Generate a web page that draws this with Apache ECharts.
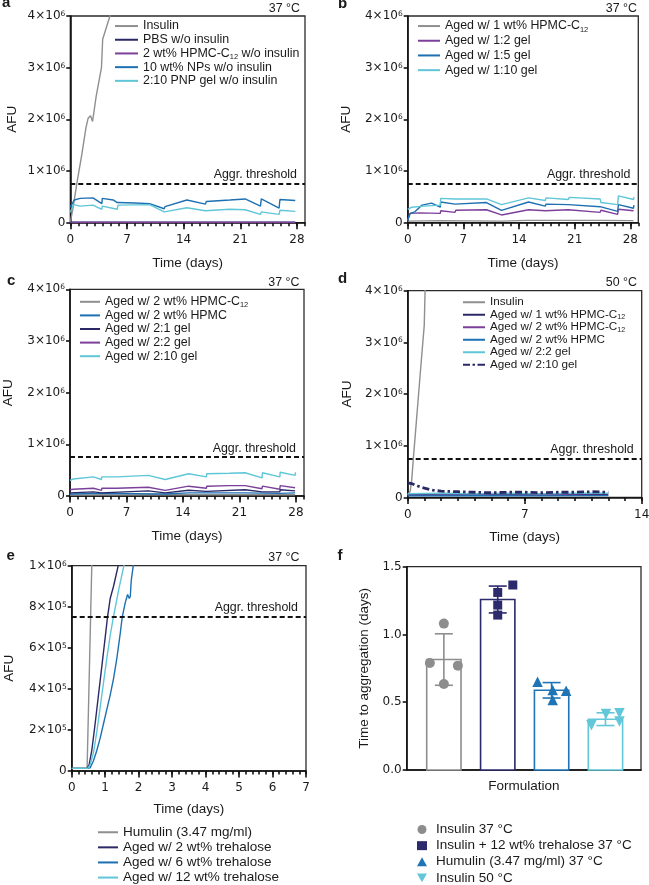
<!DOCTYPE html>
<html><head><meta charset="utf-8">
<script src="https://cdn.jsdelivr.net/npm/echarts@6/dist/echarts.min.js"></script>
<style>html,body{margin:0;padding:0;background:#fff}#c{width:649px;height:885px}</style>
</head><body><div id="c"></div><script>
// ---------- DATA (AFU values in units of 10^6; time in days) ----------
const THRESHOLD = 0.75;
const X_MAJOR_28 = [0, 7, 14, 21, 28];
const X_MAJOR_14 = [0, 7, 14];
const X_MAJOR_7 = [0, 1, 2, 3, 4, 5, 6, 7];
const Y_TICKS_AFU = ['0', '1×10^6', '2×10^6', '3×10^6', '4×10^6'];
const Y_TICKS_E = ['0', '2×10^5', '4×10^5', '6×10^5', '8×10^5', '1×10^6'];
const Y_TICKS_F = ['0.0', '0.5', '1.0', '1.5'];

// Panel a (37 °C)
const A_LABELS = ['Insulin', 'PBS w/o insulin', '2 wt% HPMC-C_12 w/o insulin', '10 wt% NPs w/o insulin', '2:10 PNP gel w/o insulin'];
const A_INSULIN = [[0,0],[0.35,0.3],[0.85,0.8],[1.4,1.3],[1.95,1.85],[2.2,2.02],[2.5,2.07],[2.75,1.96],[3.2,2.45],[3.85,3.0],[4.0,3.55],[4.9,4.0],[5.8,4.6]];
const A_PBS = [[0,0.008],[7,0.008],[14,0.008],[21,0.008],[27.8,0.008]];
const A_HPMC = [[0,0.004],[7,0.004],[14,0.004],[21,0.004],[27.8,0.004]];
const A_NPS = [[0,0.3],[0.5,0.44],[1.2,0.47],[2.8,0.48],[3.9,0.37],[3.95,0.47],[5.3,0.44],[5.8,0.39],[5.9,0.41],[8,0.38],[9.8,0.37],[11.6,0.27],[11.7,0.31],[14.4,0.44],[16.7,0.36],[16.8,0.41],[19.7,0.44],[21.6,0.46],[23.5,0.32],[23.6,0.46],[25.8,0.28],[25.9,0.45],[27.8,0.43]];
const A_GEL = [[0,0.2],[0.4,0.35],[1.2,0.32],[2.8,0.34],[3.9,0.26],[3.95,0.32],[5.8,0.26],[5.9,0.34],[9.8,0.35],[11.6,0.21],[14.4,0.29],[16.7,0.23],[16.8,0.26],[19.7,0.26],[21.6,0.25],[23.5,0.16],[23.6,0.21],[25.8,0.16],[25.9,0.24],[27.8,0.22]];

// Panel b (37 °C)
const B_LABELS = ['Aged w/ 1 wt% HPMC-C_12', 'Aged w/ 1:2 gel', 'Aged w/ 1:5 gel', 'Aged w/ 1:10 gel'];
const B_HPMC = [[0,0.03],[4,0.04],[11.8,0.03],[15,0.045],[24,0.045],[28.4,0.04]];
const B_G12 = [[0,0.04],[0.3,0.18],[1.5,0.19],[4.1,0.18],[4.15,0.23],[5.95,0.2],[6.05,0.24],[9.9,0.25],[11.8,0.15],[15.2,0.25],[17.3,0.23],[17.4,0.25],[20.2,0.25],[24.2,0.2],[24.3,0.24],[26.4,0.16],[26.5,0.26],[28.4,0.23]];
const B_G15 = [[0,0.05],[0.3,0.18],[0.9,0.21],[1.8,0.34],[3.0,0.38],[4.1,0.3],[4.15,0.4],[5.95,0.36],[6.05,0.39],[9.9,0.39],[11.8,0.24],[15.2,0.4],[17.3,0.32],[17.4,0.36],[20.2,0.35],[24.2,0.31],[26.4,0.22],[26.5,0.35],[28.4,0.28],[28.45,0.34]];
const B_G110 = [[0,0.26],[0.5,0.3],[2,0.32],[4.1,0.34],[4.15,0.47],[6.0,0.46],[6.1,0.43],[6.2,0.46],[9.9,0.46],[11.8,0.35],[15.2,0.48],[17.3,0.43],[17.4,0.48],[20.2,0.45],[20.3,0.49],[24.2,0.46],[24.3,0.39],[26.4,0.35],[26.5,0.52],[28.4,0.45],[28.45,0.5]];

// Panel c (37 °C)
const C_LABELS = ['Aged w/ 2 wt% HPMC-C_12', 'Aged w/ 2 wt% HPMC', 'Aged w/ 2:1 gel', 'Aged w/ 2:2 gel', 'Aged w/ 2:10 gel'];
const C_HPMCC12 = [[0,0.02],[14,0.025],[27.9,0.025]];
const C_HPMC = [[0,0.04],[3.9,0.05],[11.8,0.04],[14.7,0.06],[21.7,0.06],[26,0.05],[27.9,0.06]];
const C_G21 = [[0,0.06],[2.9,0.08],[3.9,0.06],[3.95,0.09],[9.7,0.1],[11.8,0.06],[14.7,0.11],[16.9,0.09],[16.95,0.11],[21.7,0.12],[23.8,0.08],[23.85,0.11],[26,0.08],[26.05,0.12],[27.9,0.1]];
const C_G22 = [[0,0.12],[0.4,0.13],[2.9,0.15],[3.9,0.11],[3.95,0.15],[5.8,0.15],[6,0.16],[9.7,0.17],[11.8,0.11],[14.7,0.19],[16.9,0.15],[16.95,0.19],[19.8,0.2],[21.7,0.2],[23.8,0.14],[23.85,0.19],[26,0.13],[26.05,0.2],[27.9,0.16]];
const C_G210 = [[0,0.3],[0.4,0.33],[2.9,0.37],[3.9,0.32],[3.95,0.37],[5.8,0.37],[6,0.38],[9.7,0.4],[11.8,0.32],[14.7,0.43],[16.9,0.37],[16.95,0.43],[19.8,0.44],[21.7,0.45],[23.8,0.35],[23.85,0.45],[26,0.37],[26.05,0.46],[27.9,0.4],[27.95,0.46]];

// Panel d (50 °C)
const D_LABELS = ['Insulin', 'Aged w/ 1 wt% HPMC-C_12', 'Aged w/ 2 wt% HPMC-C_12', 'Aged w/ 2 wt% HPMC', 'Aged w/ 2:2 gel', 'Aged w/ 2:10 gel'];
const D_INSULIN = [[0,0.05],[0.15,0.12],[0.24,0.34],[0.34,0.76],[0.8,2.59],[0.99,3.33],[1.04,4.0],[1.1,4.6]];
const D_HPMCC12_1 = [[0,0.05],[2,0.06],[4,0.05],[6,0.06],[8,0.05],[10,0.06],[12,0.06]];
const D_HPMCC12_2 = [[0,0.04],[3,0.045],[6,0.04],[9,0.045],[12,0.04]];
const D_HPMC = [[0,0.03],[4,0.035],[8,0.03],[12,0.035]];
const D_G22 = [[0,0.07],[2,0.08],[4,0.07],[6,0.08],[8,0.07],[10,0.08],[12,0.08]];
const D_G210 = [[0,0.28],[0.3,0.26],[0.6,0.22],[1,0.18],[1.5,0.14],[2,0.12],[3,0.11],[4,0.1],[5,0.09],[6,0.1],[7,0.1],[8,0.09],[9,0.1],[10,0.1],[11,0.11],[12,0.1]];

// Panel e (37 °C)
const E_LABELS = ['Humulin (3.47 mg/ml)', 'Aged w/ 2 wt% trehalose', 'Aged w/ 6 wt% trehalose', 'Aged w/ 12 wt% trehalose'];
const E_HUMULIN = [[0,0.013],[0.46,0.013],[0.6,1.0],[0.62,1.05]];
const E_TRE2 = [[0,0.013],[0.46,0.013],[0.52,0.03],[0.6,0.1],[0.7,0.23],[0.8,0.37],[0.9,0.51],[1.0,0.65],[1.07,0.75],[1.15,0.84],[1.25,0.9],[1.39,1.0],[1.45,1.04]];
const E_TRE6 = [[0,0.013],[0.48,0.013],[0.55,0.015],[0.65,0.05],[0.75,0.1],[0.85,0.16],[0.95,0.23],[1.05,0.3],[1.15,0.37],[1.25,0.45],[1.35,0.55],[1.45,0.67],[1.51,0.75],[1.6,0.82],[1.67,0.86],[1.72,0.84],[1.75,0.85],[1.78,0.93],[1.84,1.0],[1.9,1.04]];
const E_TRE12 = [[0,0.013],[0.48,0.013],[0.55,0.03],[0.65,0.09],[0.75,0.19],[0.85,0.31],[0.95,0.43],[1.05,0.55],[1.15,0.66],[1.245,0.75],[1.4,0.88],[1.56,1.0],[1.62,1.04]];

// Panel f
const F_LABELS = ['Insulin 37 °C', 'Insulin + 12 wt% trehalose 37 °C', 'Humulin (3.47 mg/ml) 37 °C', 'Insulin 50 °C'];
const F_MEAN = [0.815, 1.258, 0.588, 0.375];
const F_SD = [0.19, 0.099, 0.057, 0.047];
const F_PTS = [[1.08, 0.79, 0.77, 0.635], [1.31, 1.365, 1.217, 1.143], [0.652, 0.59, 0.585, 0.516], [0.33, 0.413, 0.418, 0.357]];
const F_JITTER = [[0, -0.26, 0.26, 0], [0, 0.28, 0, 0], [-0.26, 0.02, 0.27, 0.02], [-0.26, 0.01, 0.26, 0.26]];

// ---------- STYLE ----------
const FONT = '"Liberation Sans", Arial, sans-serif';
const TFONT = '"DejaVu Sans", sans-serif';
const TXT = '#1a1a1a';
const COL = {gray:'#8f8f8f', navy:'#2a2966', purple:'#7c3f9a', blue:'#1d70b2', cyan:'#5fc6d8'};
const F_COLORS = ['#8d8d8d', '#2b2a6c', '#1f74b6', '#62c7d8'];
const F_SYMBOLS = ['circle', 'rect', 'triangle', 'path://M0,0L2,0L1,1.73Z'];
const F_SIZES = [10, 9, 10.5, 10.5];
const F_BAR_W = 0.637;
const AX = {color:'#111', width:1.6};
const LINE_ICON = 'rect';
const DASHDOT_ICON = 'path://M0,0h7v2h-7zM9.5,0h2.5v2h-2.5zM14.5,0h7.5v2h-7.5z';

const gridDefs = [
  {left:70.3, top:16, width:234.7, height:206.7},
  {left:407.7, top:16, width:230.6, height:206.7},
  {left:70, top:289.3, width:234, height:206.7},
  {left:407.7, top:290.7, width:234, height:206.7},
  {left:71.7, top:565.7, width:234.3, height:205.3},
  {left:406.7, top:566.7, width:234.3, height:203.3}
];
const grid = gridDefs.map(g => Object.assign({show:true, borderColor:'#2b2b2b', borderWidth:1.3, backgroundColor:'transparent', containLabel:false, outerBoundsMode:'none'}, g));

function supFmt(s) {
  if (s.indexOf('^') < 0) return '{m|' + s + '}';
  const p = s.split('^');
  return '{m|' + p[0] + '}{s|' + p[1] + '}';
}
const supRich = {m:{fontFamily:TFONT, fontSize:12, color:TXT, lineHeight:12}, s:{fontFamily:TFONT, fontSize:7.5, color:TXT, verticalAlign:'top', lineHeight:8}};

const xAxis = [], yAxis = [];
function addX(gi, min, max, minorStep, majors, nameGap) {
  xAxis.push({gridIndex:gi, type:'value', position:'bottom', min, max, interval:minorStep,
    axisLine:{show:true, onZero:false, lineStyle:AX}, axisTick:{show:true, length:3.5, lineStyle:AX},
    axisLabel:{show:false}, splitLine:{show:false}});
  const idx = xAxis.length - 1;
  xAxis.push({gridIndex:gi, type:'value', position:'bottom', min, max,
    axisLine:{show:false, onZero:false}, axisTick:{show:true, length:6.5, customValues:majors, lineStyle:AX},
    axisLabel:{show:true, customValues:majors, margin:11, fontFamily:TFONT, fontSize:12, color:TXT},
    splitLine:{show:false}, name:'Time (days)', nameLocation:'middle', nameGap,
    nameTextStyle:{fontFamily:FONT, fontSize:13.5, color:TXT}});
  return idx;
}
function addY(gi, max, interval, labels, name, nameGap) {
  yAxis.push({gridIndex:gi, type:'value', min:0, max, interval,
    axisLine:{show:true, onZero:false, lineStyle:AX}, axisTick:{show:true, length:4, lineStyle:AX},
    axisLabel:{margin:5, formatter:(v, i) => supFmt(labels[i] !== undefined ? labels[i] : ''), rich:supRich},
    splitLine:{show:false}, name, nameLocation:'middle', nameGap,
    nameTextStyle:{fontFamily:FONT, fontSize:13.5, color:TXT}});
  return yAxis.length - 1;
}

const xa = addX(0, 0, 29, 1, X_MAJOR_28, 34), ya = addY(0, 4, 1, Y_TICKS_AFU, 'AFU', 51);
const xb = addX(1, 0, 29, 1, X_MAJOR_28, 34), yb = addY(1, 4, 1, Y_TICKS_AFU, 'AFU', 54);
const xc = addX(2, 0, 29, 1, X_MAJOR_28, 33), yc = addY(2, 4, 1, Y_TICKS_AFU, 'AFU', 55);
const xd = addX(3, 0, 14, 1, X_MAJOR_14, 33), yd = addY(3, 4, 1, Y_TICKS_AFU, 'AFU', 53);
const xe = addX(4, 0, 7, 0.2, X_MAJOR_7, 31), ye = addY(4, 1, 0.2, Y_TICKS_E, 'AFU', 55);
xAxis.push({gridIndex:5, type:'value', position:'bottom', min:-0.69, max:3.66,
  axisLine:{show:true, onZero:false, lineStyle:AX}, axisTick:{show:false}, axisLabel:{show:false}, splitLine:{show:false},
  name:'Formulation', nameLocation:'middle', nameGap:9, nameTextStyle:{fontFamily:FONT, fontSize:13.5, color:TXT}});
const xf = xAxis.length - 1;
const yf = addY(5, 1.5, 0.5, Y_TICKS_F, 'Time to aggregation (days)', 35);

const thresholdMark = {
  silent:true, symbol:['none','none'], animation:false,
  lineStyle:{type:[5,3], width:2, color:'#111'},
  label:{show:true, position:'insideEndTop', formatter:'Aggr. threshold', fontFamily:FONT, fontSize:12.4, color:TXT, distance:[8,3]},
  data:[{yAxis:THRESHOLD}]
};

const series = [];
function addLine(prefix, label, data, color, xi, yi, extra) {
  const s = {type:'line', name:prefix + label, xAxisIndex:xi, yAxisIndex:yi, data, symbol:'none', showSymbol:false,
    lineStyle:Object.assign({color, width:1.4}, (extra && extra.lineStyle) || {}), itemStyle:{color}, clip:true, animation:false};
  series.push(s);
  return s;
}
// a
addLine('a: ', A_LABELS[0], A_INSULIN, COL.gray, xa, ya);
addLine('a: ', A_LABELS[1], A_PBS, COL.navy, xa, ya);
addLine('a: ', A_LABELS[2], A_HPMC, COL.purple, xa, ya);
addLine('a: ', A_LABELS[3], A_NPS, COL.blue, xa, ya).markLine = thresholdMark;
addLine('a: ', A_LABELS[4], A_GEL, COL.cyan, xa, ya);
// b
addLine('b: ', B_LABELS[0], B_HPMC, COL.gray, xb, yb).markLine = thresholdMark;
addLine('b: ', B_LABELS[1], B_G12, COL.purple, xb, yb);
addLine('b: ', B_LABELS[2], B_G15, COL.blue, xb, yb);
addLine('b: ', B_LABELS[3], B_G110, COL.cyan, xb, yb);
// c
addLine('c: ', C_LABELS[0], C_HPMCC12, COL.gray, xc, yc).markLine = thresholdMark;
addLine('c: ', C_LABELS[1], C_HPMC, COL.blue, xc, yc);
addLine('c: ', C_LABELS[2], C_G21, COL.navy, xc, yc);
addLine('c: ', C_LABELS[3], C_G22, COL.purple, xc, yc);
addLine('c: ', C_LABELS[4], C_G210, COL.cyan, xc, yc);
// d
addLine('d: ', D_LABELS[0], D_INSULIN, COL.gray, xd, yd).markLine = thresholdMark;
addLine('d: ', D_LABELS[1], D_HPMCC12_1, COL.navy, xd, yd);
addLine('d: ', D_LABELS[2], D_HPMCC12_2, COL.purple, xd, yd);
addLine('d: ', D_LABELS[3], D_HPMC, COL.blue, xd, yd);
addLine('d: ', D_LABELS[4], D_G22, COL.cyan, xd, yd);
addLine('d: ', D_LABELS[5], D_G210, COL.navy, xd, yd, {lineStyle:{type:[7,3,2.5,3], width:2.8}});
// e
addLine('e: ', E_LABELS[0], E_HUMULIN, COL.gray, xe, ye).markLine = thresholdMark;
addLine('e: ', E_LABELS[1], E_TRE2, COL.navy, xe, ye);
addLine('e: ', E_LABELS[2], E_TRE6, COL.blue, xe, ye);
addLine('e: ', E_LABELS[3], E_TRE12, COL.cyan, xe, ye);
// f bars + error bars
series.push({type:'custom', name:'f-bars', xAxisIndex:xf, yAxisIndex:yf, animation:false, clip:false,
  data:F_MEAN.map((m, i) => [i, m, F_SD[i]]),
  renderItem:(params, api) => {
    const i = api.value(0), m = api.value(1), sd = api.value(2);
    const top = api.coord([i, m]), base = api.coord([i, 0]);
    const hi = api.coord([i, m + sd]), lo = api.coord([i, m - sd]);
    const w = api.size([F_BAR_W, 0])[0];
    const col = F_COLORS[i], cap = 9, lw = 1.6;
    return {type:'group', children:[
      {type:'rect', shape:{x:top[0]-w/2, y:top[1], width:w, height:base[1]-top[1]}, style:{fill:'#fff', stroke:col, lineWidth:lw}},
      {type:'line', shape:{x1:top[0], y1:hi[1], x2:top[0], y2:lo[1]}, style:{stroke:col, lineWidth:lw}},
      {type:'line', shape:{x1:top[0]-cap, y1:hi[1], x2:top[0]+cap, y2:hi[1]}, style:{stroke:col, lineWidth:lw}},
      {type:'line', shape:{x1:top[0]-cap, y1:lo[1], x2:top[0]+cap, y2:lo[1]}, style:{stroke:col, lineWidth:lw}}
    ]};
  }});
F_PTS.forEach((pts, g) => {
  series.push({type:'scatter', name:'f: ' + F_LABELS[g], xAxisIndex:xf, yAxisIndex:yf, animation:false, z:5,
    symbol:F_SYMBOLS[g], symbolSize:F_SIZES[g], itemStyle:{color:F_COLORS[g], opacity:1},
    data:pts.map((v, k) => [g + F_JITTER[g][k], v])});
});

function legFmt(name) {
  const t = name.slice(3);
  const parts = t.split('_12');
  let out = '';
  parts.forEach((p, i) => { if (p) out += '{t|' + p + '}'; if (i < parts.length - 1) out += '{s|12}'; });
  return out;
}
function legend(prefix, labels, left, top, itemWidth, fontSize, rowH, icons, extra) {
  return Object.assign({
    orient:'vertical', left, top, height:rowH * labels.length + 4, padding:0, itemGap:0, itemWidth, itemHeight:2,
    data:labels.map((l, i) => ({name:prefix + l, icon:icons ? icons[i] : LINE_ICON})), formatter:legFmt, selectedMode:false,
    textStyle:{color:TXT, fontFamily:FONT, fontSize, lineHeight:rowH,
      rich:{t:{fontFamily:FONT, fontSize, color:TXT, lineHeight:rowH}, s:{fontFamily:FONT, fontSize:fontSize*0.6, color:TXT, verticalAlign:'bottom', lineHeight:6}}}
  }, extra || {});
}
const legends = [
  legend('a: ', A_LABELS, 115, 19.2, 23, 12.4, 13.7),
  legend('b: ', B_LABELS, 418, 18.7, 22, 12.4, 14.7),
  legend('c: ', C_LABELS, 80, 295, 20, 12.4, 13.6),
  legend('d: ', D_LABELS, 463, 296, 22, 11.7, 12.5, [LINE_ICON, LINE_ICON, LINE_ICON, LINE_ICON, LINE_ICON, DASHDOT_ICON]),
  legend('e: ', E_LABELS, 98, 824.7, 20, 13.5, 15.1),
  legend('f: ', F_LABELS, 417, 821.5, 10, 13.5, 16.1, F_SYMBOLS, {itemHeight:9,
    textStyle:{color:TXT, fontFamily:FONT, fontSize:13.5, lineHeight:16.1, padding:[0,0,0,4],
      rich:{t:{fontFamily:FONT, fontSize:13.5, color:TXT, lineHeight:16.1}}}})
];

function txt(text, x, y, align, size, bold) {
  return {type:'text', x, y, silent:true, style:{text, x:0, y:0, align, verticalAlign:'middle', fontFamily:FONT, fontSize:size, fontWeight:bold ? 'bold' : 'normal', fill:TXT}};
}
const graphic = [
  txt('a', 2, 3, 'left', 15, true), txt('b', 338, 3.5, 'left', 15, true),
  txt('c', 7, 281, 'left', 15, true), txt('d', 338, 279, 'left', 15, true),
  txt('e', 6.5, 556, 'left', 15, true), txt('f', 337.5, 556, 'left', 15, true),
  txt('37 °C', 300, 9, 'right', 12.4), txt('37 °C', 637, 9, 'right', 12.4),
  txt('37 °C', 299.5, 282.5, 'right', 12.4), txt('50 °C', 637, 282.5, 'right', 12.4),
  txt('37 °C', 299.5, 557.5, 'right', 12.4)
];

const chart = echarts.init(document.getElementById('c'), null, {renderer:'canvas'});
chart.setOption({animation:false, backgroundColor:'#fff', grid, xAxis, yAxis, series, legend:legends, graphic});
</script></body></html>
